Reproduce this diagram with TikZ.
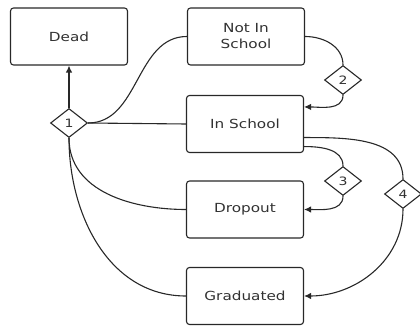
\documentclass[tikz,border=0pt]{standalone}
\usepackage{fontspec}
\usepackage{tikz}
\usetikzlibrary{arrows.meta,shapes.geometric}
\newfontfamily\boxfont{DejaVu Sans}[FakeStretch=1.22]
\definecolor{lineclr}{RGB}{40,40,40}
\definecolor{textclr}{RGB}{50,50,50}
\tikzstyle{state} = [draw=lineclr, line width=1.1pt, rounded corners=3pt, fill=white,
  minimum width=117pt, minimum height=57pt, align=center,
  font=\boxfont\fontsize{12.5}{16}\selectfont, text=textclr]
\tikzstyle{choice} = [diamond, draw=lineclr, line width=1.1pt, fill=white, inner sep=0pt,
  minimum width=37pt, minimum height=29pt,
  font=\boxfont\fontsize{11.5}{14}\selectfont, text=textclr]
\tikzstyle{link} = [line width=1.1pt, color=lineclr]
\tikzstyle{arrow} = [link, -{Latex[length=7pt,width=6.5pt]}]

\begin{document}
\begin{tikzpicture}[x=1pt, y=-1pt]
\useasboundingbox (0,0) rectangle (420,328);
% States
\node[state] (dead) at (69,36.5) {Dead};
\node[state] (notin) at (246,36.5) {Not In\\School};
\node[state] (inschool) at (245,124) {In School};
\node[state] (dropout) at (245,209.5) {Dropout};
\node[state] (grad) at (245,296) {Graduated};

% Choices
\node[choice] (c1) at (69,123) {1};
\node[choice] (c2) at (343,80) {2};
\node[choice] (c3) at (343,181) {3};
\node[choice] (c4) at (403,194) {4};

% Links from choice 1
\draw[arrow] (c1) -- (dead);
\draw[link] (c1.east) to[out=0, in=180] (notin.west);
\draw[link] (c1.east) -- (inschool.west);
\draw[link] (c1.south) to[out=-90, in=180] (dropout.west);
\draw[link] (c1.south) to[out=-90, in=180] (grad.west);

% Links through choices 2, 3 and 4
\draw[link] (notin.east) to[out=0, in=90] (c2.north);
\draw[arrow] (c2.south) to[out=-90, in=0] ([yshift=-12pt]inschool.north east);
\draw[link] ([yshift=6.5pt]inschool.south east) to[out=0, in=90] (c3.north);
\draw[arrow] (c3.south) to[out=-90, in=0] (dropout.east);
\draw[link] ([yshift=15.5pt]inschool.south east) to[out=0, in=90] (c4.north);
\draw[arrow] (c4.south) to[out=-90, in=0] (grad.east);
\end{tikzpicture}
\end{document}
